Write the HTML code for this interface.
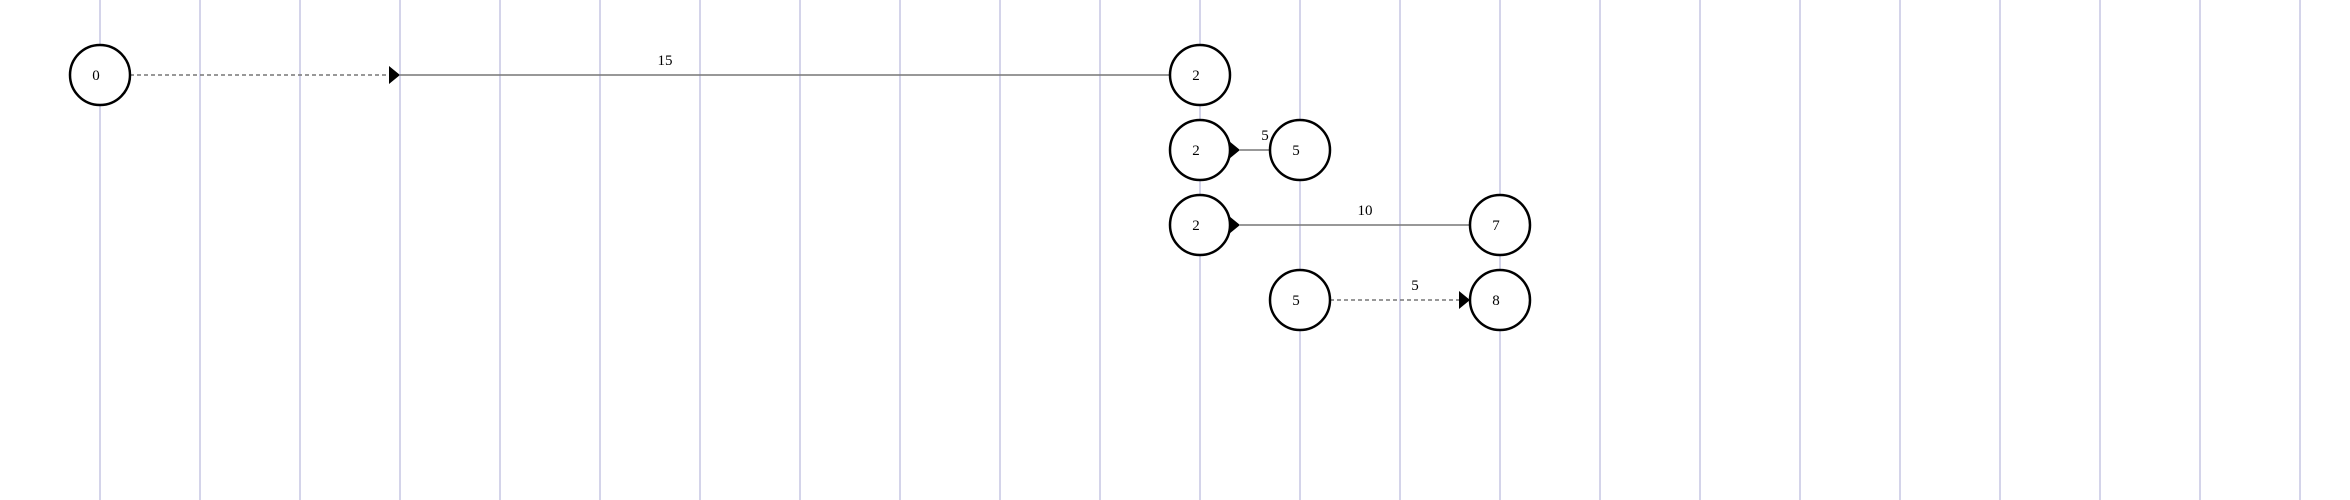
<!DOCTYPE html>
<html><head><meta charset="utf-8"><style>
html,body{margin:0;padding:0;background:#fff;}
svg{display:block;}
text{font-family:"Liberation Serif",serif;font-size:15px;fill:#000;}
</style></head><body>
<svg id="chart" width="2350" height="500"></svg>
<script>
const gridTimes=[1,2,3,4,5,6,7,8,9,10,11,12,13,14,15,16,17,18,19,20,21,22,23];
// nodes: time column, row, label
const nodeCols=[1,12,12,13,12,15,13,15];
const nodeRows=[0,0,1,1,2,2,3,3];
const nodeLabels=["0","2","2","5","2","7","5","8"];
// edges: from node idx, to node idx, label
const edgeFrom=[0,2,4,6];
const edgeTo=[1,3,5,7];
const edgeLabels=["15","5","10","5"];
// start time of solid segment (after waiting, dashed)
const edgeSolidStart=[4,12,12,null];
const NS="http://www.w3.org/2000/svg";
const svg=document.getElementById('chart');
const X=t=>t*100, Y=r=>75+r*75, R=30;
function el(tag,attrs){const e=document.createElementNS(NS,tag);for(const k in attrs)e.setAttribute(k,attrs[k]);svg.appendChild(e);return e;}
gridTimes.forEach(t=>{
  const l=el('line',{x1:X(t),y1:0,x2:X(t),y2:500,stroke:'#d4d4ea','stroke-width':2});
  
  
});
edgeFrom.forEach((f,i)=>{
  const t=edgeTo[i];
  const y=Y(nodeRows[f]);
  const x0=X(nodeCols[f])+R, x1=X(nodeCols[t])-R;
  let arrowX;
  if(edgeSolidStart[i]!==null){
    const s=X(edgeSolidStart[i]);
    if(s>x0+2){
      const d=el('line',{x1:x0,y1:y,x2:s-10,y2:y,stroke:'#777','stroke-width':1.5,'stroke-dasharray':'4,3'});
      
      
      arrowX=s;
    } else arrowX=x0+10;
    const ln=el('line',{x1:arrowX,y1:y,x2:x1,y2:y,stroke:'#777','stroke-width':1.5});
    
    
  } else {
    const d=el('line',{x1:x0,y1:y,x2:x1-10,y2:y,stroke:'#777','stroke-width':1.5,'stroke-dasharray':'4,3'});
    
    
    arrowX=x1;
  }
  const a=el('polygon',{points:`${arrowX-11},${y-9} ${arrowX},${y} ${arrowX-11},${y+9}`,fill:'#000'});
  
  
  const tx=el('text',{x:(X(nodeCols[f])+X(nodeCols[t]))/2+15,y:y-10,'text-anchor':'middle'});
  tx.textContent=edgeLabels[i];
  
  
});
nodeCols.forEach((c,i)=>{
  const g=el('circle',{cx:X(c),cy:Y(nodeRows[i]),r:R,fill:'#fff',stroke:'#000','stroke-width':2.5});
  
  
  const t=el('text',{x:X(c)-4,y:Y(nodeRows[i])+5,'text-anchor':'middle'});
  t.textContent=nodeLabels[i];
  
  
});
</script>
</body></html>
